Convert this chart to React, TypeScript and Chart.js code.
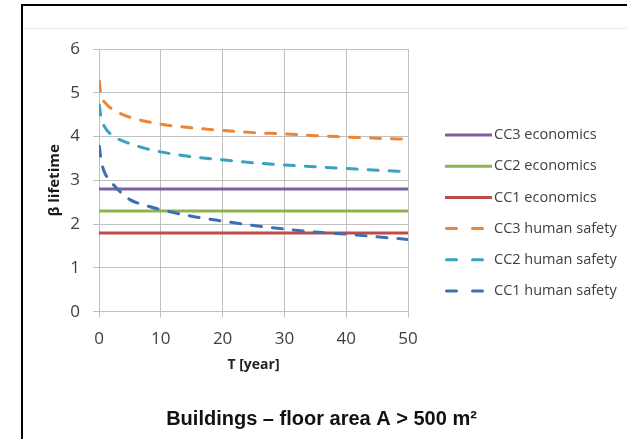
import React, { useEffect, useRef } from "react";
import { Chart, registerables } from "chart.js";

Chart.register(...registerables);

// ---- data ----
const T = [0.05, 0.25, 0.6, 1, 2, 3, 5, 7.5, 10, 15, 20, 25, 30, 35, 40, 45, 50];
const cc3Human = [5.27, 5.0, 4.85, 4.77, 4.64, 4.56, 4.44, 4.35, 4.28, 4.2, 4.14, 4.09, 4.06, 4.02, 3.99, 3.96, 3.94];
const cc2Human = [4.72, 4.5, 4.32, 4.2, 4.04, 3.95, 3.84, 3.73, 3.65, 3.54, 3.47, 3.4, 3.35, 3.31, 3.27, 3.23, 3.2];
const cc1Human = [3.78, 3.55, 3.3, 3.15, 2.96, 2.8, 2.56, 2.43, 2.33, 2.18, 2.07, 1.97, 1.89, 1.82, 1.77, 1.71, 1.65];

const econT = [0, 50];
const cc3Econ = [2.8, 2.8];
const cc2Econ = [2.3, 2.3];
const cc1Econ = [1.8, 1.8];

const xTicks = [0, 10, 20, 30, 40, 50];
const yTicks = [0, 1, 2, 3, 4, 5, 6];

const seriesLabels = [
  "CC3 economics",
  "CC2 economics",
  "CC1 economics",
  "CC3 human safety",
  "CC2 human safety",
  "CC1 human safety",
];
const seriesColors = ["#7D60A0", "#8DB450", "#BE4B48", "#EE8536", "#3AA2C1", "#3C70B4"];

const chartTitle = "Buildings \u2013 floor area A > 500 m\u00B2";
const xTitle = "T [year]";
const yTitle = "\u03B2 lifetime";

const pts = (xs: number[], ys: number[]) => xs.map((x, i) => ({ x, y: ys[i] }));

const framePlugin = {
  id: "frame",
  beforeDraw(chart: any) {
    const ctx = chart.ctx;
    ctx.save();
    ctx.fillStyle = "#ffffff";
    ctx.fillRect(0, 0, chart.width, chart.height);
    ctx.strokeStyle = "#E8E8E8";
    ctx.lineWidth = 1;
    ctx.beginPath();
    ctx.moveTo(23, 28.5);
    ctx.lineTo(chart.width, 28.5);
    ctx.stroke();
    ctx.strokeStyle = "#000000";
    ctx.lineWidth = 2;
    ctx.beginPath();
    ctx.moveTo(chart.width + 2, 5);
    ctx.lineTo(22, 5);
    ctx.lineTo(22, chart.height + 2);
    ctx.stroke();
    ctx.restore();
  },
  afterDraw(chart: any) {
    const ctx = chart.ctx;
    ctx.save();
    // legend
    const ds = chart.data.datasets;
    ds.forEach((d: any, i: number) => {
      const y = 135 + i * 31.2;
      ctx.strokeStyle = d.borderColor;
      ctx.lineWidth = 3;
      if (d.borderDash && d.borderDash.length) {
        ctx.setLineDash([10, 16]);
        ctx.lineCap = "round";
        ctx.beginPath();
        ctx.moveTo(446.5, y);
        ctx.lineTo(490, y);
        ctx.stroke();
      } else {
        ctx.setLineDash([]);
        ctx.lineCap = "butt";
        ctx.beginPath();
        ctx.moveTo(445, y);
        ctx.lineTo(492, y);
        ctx.stroke();
      }
      ctx.setLineDash([]);
      ctx.fillStyle = "#404040";
      ctx.font = "14.5px 'Open Sans'";
      ctx.textAlign = "left";
      ctx.textBaseline = "middle";
      ctx.fillText(d.label, 494, y);
    });
    // bottom title
    ctx.fillStyle = "#111111";
    ctx.font = "bold 20px 'Liberation Sans'";
    ctx.textAlign = "center";
    ctx.textBaseline = "middle";
    ctx.fillText(chartTitle, 321.5, 419);
    ctx.restore();
  },
};

export default function App() {
  const ref = useRef<HTMLCanvasElement | null>(null);

  useEffect(() => {
    if (!ref.current) return;
    const human = [cc3Human, cc2Human, cc1Human];
    const econ = [cc3Econ, cc2Econ, cc1Econ];
    const datasets = seriesLabels.map((label, i) => {
      const isHuman = i >= 3;
      return {
        label,
        data: isHuman ? pts(T, human[i - 3]) : pts(econT, econ[i]),
        borderColor: seriesColors[i],
        backgroundColor: seriesColors[i],
        borderWidth: 3,
        borderDash: isHuman ? [10, 11] : [],
        borderCapStyle: isHuman ? "round" : "butt",
        pointRadius: 0,
        pointHoverRadius: 0,
        fill: false,
        cubicInterpolationMode: "monotone",
        order: 6 - i,
      };
    });

    const tickFont = { family: "'Open Sans'", size: 17 };
    const titleFont = { family: "'Open Sans'", size: 15, weight: "bold" };

    const chart = new Chart(ref.current, {
      type: "line",
      data: { datasets: datasets as any },
      options: {
        animation: false,
        responsive: false,
        devicePixelRatio: 1,
        layout: { padding: { left: 0, top: 49, right: 219, bottom: 65.3 } },
        plugins: { legend: { display: false }, title: { display: false }, tooltip: { enabled: false } },
        scales: {
          x: {
            type: "linear",
            min: 0,
            max: 50,
            afterBuildTicks: (s: any) => {
              s.ticks = xTicks.map((v) => ({ value: v }));
            },
            afterFit: (s: any) => {
              s.height = 62;
            },
            grid: { color: "#C0C0C0", lineWidth: 1, tickLength: 6, drawTicks: true },
            border: { display: true, color: "#C0C0C0" },
            ticks: { font: tickFont, color: "#404040", padding: 11, maxRotation: 0 },
            title: { display: true, text: xTitle, font: { ...titleFont, size: 14 }, color: "#222222", padding: { top: 0, bottom: 0 } },
          },
          y: {
            type: "linear",
            min: 0,
            max: 6,
            afterBuildTicks: (s: any) => {
              s.ticks = yTicks.map((v) => ({ value: v }));
            },
            afterFit: (s: any) => {
              s.width = 99;
            },
            grid: { color: "#C0C0C0", lineWidth: 1, tickLength: 6, drawTicks: true },
            border: { display: true, color: "#C0C0C0" },
            ticks: { font: tickFont, color: "#404040", padding: 13 },
            title: { display: true, text: yTitle, font: titleFont, color: "#1a1a1a", padding: { top: 46, bottom: 0 } },
          },
        },
      },
      plugins: [framePlugin],
    });
    return () => chart.destroy();
  }, []);

  return (
    <div style={{ position: "absolute", left: 0, top: 0, width: 627, height: 439, background: "#fff" }}>
      <canvas ref={ref} width={627} height={439} style={{ display: "block", width: 627, height: 439 }} />
    </div>
  );
}
